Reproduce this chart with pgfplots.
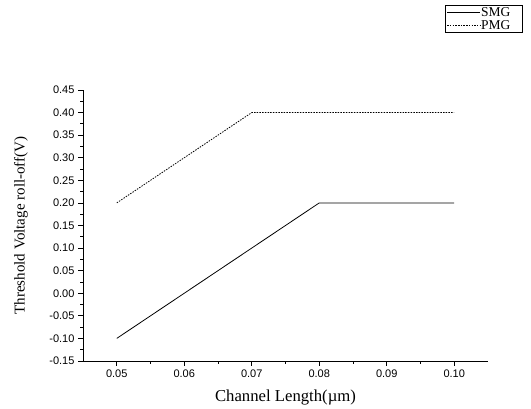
\documentclass[border=0pt]{standalone}
\usepackage{fontspec}
\setmainfont{Liberation Serif}
\newfontfamily\arialf{Liberation Sans}
\usepackage{pgfplots}
\pgfplotsset{compat=1.18}
\begin{document}
\begin{tikzpicture}
\useasboundingbox (0,0) rectangle (531pt,409pt);
\begin{axis}[
  at={(83pt,48pt)}, anchor=south west,
  scale only axis, width=405pt, height=271pt,
  xmin=0.045, xmax=0.105, ymin=-0.15, ymax=0.45,
  axis lines*=left,
  axis line style={line width=0.8pt},
  xtick={0.05,0.06,0.07,0.08,0.09,0.10},
  ytick={-0.15,-0.10,...,0.46},
  minor x tick num=1, minor y tick num=1,
  tick align=outside,
  major tick length=5pt, minor tick length=3pt,
  every tick/.style={line width=0.8pt, black},
  /pgf/number format/assume math mode=true,
  xticklabel style={/pgf/number format/.cd, fixed, fixed zerofill, precision=2},
  yticklabel style={/pgf/number format/.cd, fixed, fixed zerofill, precision=2},
  ticklabel style={font=\arialf\fontsize{11}{13}\selectfont},
  scaled x ticks=false, scaled y ticks=false,
  xlabel={Channel Length(µm)},
  ylabel={Threshold Voltage roll-off(V)},
  every axis x label/.style={at={(axis description cs:0.5,0)}, yshift=-37pt, anchor=center,
    font=\fontsize{16.7}{18}\selectfont},
  every axis y label/.style={at={(axis description cs:0,0.5)}, xshift=-62pt, anchor=center,
    rotate=90, font=\fontsize{15}{17}\selectfont},
  legend style={at={(0.894,1.314)}, anchor=north west, draw=black, line width=0.6pt,
    font=\fontsize{13.5}{14}\selectfont, row sep=1.5pt, inner sep=1.5pt,
    nodes={inner sep=0.5pt},
    cells={anchor=west}},
  legend image code/.code={\draw[#1, line width=0.8pt] (0pt,0pt) -- (33pt,0pt);},
]
\addplot[black, line width=0.8pt] coordinates {(0.05,-0.10) (0.08,0.20) (0.10,0.20)};
\addlegendentry{SMG\hspace*{10pt}}
\addplot[black, line width=0.8pt, dash pattern=on 1.5pt off 1.2pt] coordinates {(0.05,0.20) (0.07,0.40) (0.10,0.40)};
\addlegendentry{PMG}
\end{axis}
\end{tikzpicture}
\end{document}
